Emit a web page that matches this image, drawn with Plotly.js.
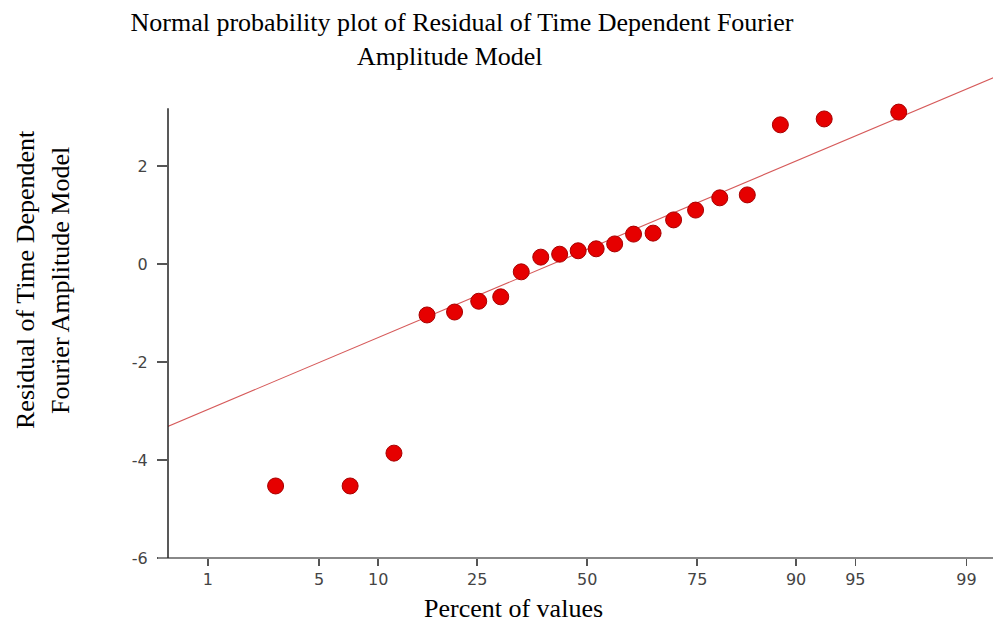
<!DOCTYPE html>
<html>
<head>
<meta charset="utf-8">
<script src="https://cdn.plot.ly/plotly-3.0.1.min.js"></script>
<style>html,body{margin:0;padding:0;background:#fff;}#chart{width:993px;height:624px;}</style>
</head>
<body>
<div id="chart"></div>
<script>
// ---- data ----
const percentValues = [2.8, 7.3, 11.8, 16.3, 20.8, 25.3, 29.8, 34.3, 38.8, 43.3, 47.8,
                       52.2, 56.7, 61.2, 65.7, 70.2, 74.7, 79.2, 83.7, 88.2, 92.7, 97.2];
const residuals = [-4.53, -4.53, -3.86, -1.04, -0.98, -0.76, -0.67, -0.16, 0.14, 0.20, 0.27,
                   0.31, 0.41, 0.61, 0.63, 0.90, 1.10, 1.35, 1.41, 2.84, 2.96, 3.10];
const fitPercent = [0.5, 99.4];
const fitValues = [-3.32, 3.83];
const tickPercents = [1, 5, 10, 25, 50, 75, 90, 95, 99];
const tickLabels = ["1", "5", "10", "25", "50", "75", "90", "95", "99"];
const yTicks = [-6, -4, -2, 0, 2];
const xRangePercent = [0.507, 99.36];
const yRange = [-6, 3.857];

// probability (normal quantile) axis scale
function probit(p) {
  const a = [-3.969683028665376e+01, 2.209460984245205e+02, -2.759285104469687e+02, 1.383577518672690e+02, -3.066479806614716e+01, 2.506628277459239e+00];
  const b = [-5.447609879822406e+01, 1.615858368580409e+02, -1.556989798598866e+02, 6.680131188771972e+01, -1.328068155288572e+01];
  const c = [-7.784894002430293e-03, -3.223964580411365e-01, -2.400758277161838e+00, -2.549732539343734e+00, 4.374664141464968e+00, 2.938163982698783e+00];
  const d = [7.784695709041462e-03, 3.224671290700398e-01, 2.445134137142996e+00, 3.754408661907416e+00];
  const pl = 0.02425, ph = 1 - pl;
  let q, r;
  if (p < pl) {
    q = Math.sqrt(-2 * Math.log(p));
    return (((((c[0]*q+c[1])*q+c[2])*q+c[3])*q+c[4])*q+c[5]) / ((((d[0]*q+d[1])*q+d[2])*q+d[3])*q+1);
  } else if (p <= ph) {
    q = p - 0.5; r = q*q;
    return (((((a[0]*r+a[1])*r+a[2])*r+a[3])*r+a[4])*r+a[5])*q / (((((b[0]*r+b[1])*r+b[2])*r+b[3])*r+b[4])*r+1);
  } else {
    q = Math.sqrt(-2 * Math.log(1 - p));
    return -(((((c[0]*q+c[1])*q+c[2])*q+c[3])*q+c[4])*q+c[5]) / ((((d[0]*q+d[1])*q+d[2])*q+d[3])*q+1);
  }
}
const toZ = arr => arr.map(v => probit(v / 100));

const serif = '"Liberation Serif", "Times New Roman", serif';
const sans = '"DejaVu Sans", Verdana, sans-serif';
const titleSize = 26;
const tickSize = 16;

const traces = [
  {
    x: toZ(fitPercent), y: fitValues, type: 'scatter', mode: 'lines',
    line: {color: 'rgb(214,90,90)', width: 1.1}, hoverinfo: 'skip', showlegend: false
  },
  {
    x: toZ(percentValues), y: residuals, type: 'scatter', mode: 'markers',
    marker: {size: 16, color: '#e60000', line: {color: '#a80000', width: 1}},
    showlegend: false
  }
];

const layout = {
  width: 993, height: 624,
  margin: {l: 168, r: 0, t: 75, b: 66, pad: 0},
  paper_bgcolor: '#fff', plot_bgcolor: '#fff',
  showlegend: false,
  title: {
    text: 'Normal probability plot of Residual of Time Dependent Fourier',
    font: {family: serif, size: titleSize, color: '#000'},
    xref: 'container', x: 462 / 993, xanchor: 'center',
    yref: 'container', y: 1 - 22 / 624, yanchor: 'middle'
  },
  xaxis: {
    range: toZ(xRangePercent),
    tickvals: toZ(tickPercents), ticktext: tickLabels,
    ticks: 'outside', ticklen: 7, tickwidth: 1.5, tickcolor: '#555',
    tickfont: {family: sans, size: tickSize, color: '#444'},
    showgrid: false, zeroline: false, showline: false,
    title: {text: ''}
  },
  yaxis: {
    range: yRange,
    tickvals: yTicks, ticktext: yTicks.map(String),
    ticks: 'outside', ticklen: 10, tickwidth: 1.2, tickcolor: '#555',
    ticklabelstandoff: 6,
    tickfont: {family: sans, size: tickSize, color: '#444'},
    showgrid: false, zeroline: false, showline: false,
    title: {text: ''}
  },
  shapes: [
    {type: 'line', xref: 'paper', yref: 'paper', x0: -10 / 825, x1: 1, y0: 0, y1: 0,
     line: {color: '#888', width: 2}},
    {type: 'line', xref: 'paper', yref: 'y', x0: 0, x1: 0, y0: -6, y1: 3.18,
     line: {color: '#222', width: 1.5}}
  ],
  annotations: [
    {text: 'Amplitude Model', xref: 'paper', yref: 'paper',
     x: (450 - 168) / 825, y: (558 - 56) / 483, xanchor: 'center', yanchor: 'middle',
     showarrow: false, font: {family: serif, size: titleSize, color: '#000'}},
    {text: 'Percent of values', xref: 'paper', yref: 'paper',
     x: (513 - 168) / 825, y: (558 - 608) / 483, xanchor: 'center', yanchor: 'middle',
     showarrow: false, font: {family: serif, size: titleSize, color: '#000'}},
    {text: 'Residual of Time Dependent', xref: 'paper', yref: 'paper', textangle: -90,
     x: (25 - 168) / 825, y: (558 - 280) / 483, xanchor: 'center', yanchor: 'middle',
     showarrow: false, font: {family: serif, size: titleSize, color: '#000'}},
    {text: 'Fourier Amplitude Model', xref: 'paper', yref: 'paper', textangle: -90,
     x: (60 - 168) / 825, y: (558 - 280) / 483, xanchor: 'center', yanchor: 'middle',
     showarrow: false, font: {family: serif, size: titleSize, color: '#000'}}
  ]
};

Plotly.newPlot('chart', traces, layout, {displayModeBar: false, staticPlot: true});
</script>
</body>
</html>
